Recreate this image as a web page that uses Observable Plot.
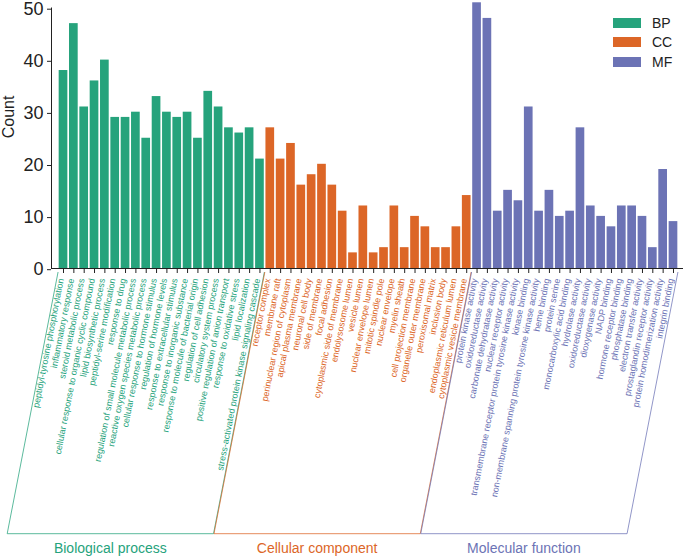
<!DOCTYPE html>
<html><head><meta charset="utf-8">
<script src="https://cdn.jsdelivr.net/npm/d3@7"></script>
<script src="https://cdn.jsdelivr.net/npm/@observablehq/plot@0.6"></script>
<style>
body{margin:0;background:#fff;font-family:"Liberation Sans",Arial,sans-serif;}
#wrap{position:relative;width:685px;height:557px;}
#legend{position:absolute;left:613px;top:13px;font-size:14px;color:#222;}
.row{display:flex;align-items:center;height:19.5px;}
.sw{width:28px;height:10px;margin-right:11px;}
</style></head><body><div id="wrap"><div id="legend"></div></div>
<script>
const groups = ["BP", "CC", "MF"];
const groupNames = ["Biological process", "Cellular component", "Molecular function"];
const groupColors = ["#26a37c", "#dc6627", "#6c73b5"];

const bpTerms = ["peptidyl-tyrosine phosphorylation", "inflammatory response", "steroid metabolic process",
  "cellular response to organic cyclic compound", "lipid biosynthetic process", "peptidyl-serine modification",
  "response to drug", "regulation of small molecule metabolic process", "reactive oxygen species metabolic process",
  "cellular response to hormone stimulus", "regulation of hormone levels", "response to extracellular stimulus",
  "response to inorganic substance", "response to molecule of bacterial origin", "regulation of cell adhesion",
  "circulatory system process", "positive regulation of anion transport", "response to oxidative stress",
  "lipid localization", "stress-activated protein kinase signaling cascade"];
const bpCounts = [38, 47, 31, 36, 40, 29, 29, 30, 25, 33, 30, 29, 30, 25, 34, 31, 27, 26, 27, 21];

const ccTerms = ["receptor complex", "membrane raft", "perinuclear region of cytoplasm", "apical plasma membrane",
  "neuronal cell body", "side of membrane", "focal adhesion", "cytoplasmic side of membrane", "endolysosome lumen",
  "vesicle lumen", "nuclear envelope lumen", "mitotic spindle pole", "nuclear envelope", "myelin sheath",
  "cell projection membrane", "organelle outer membrane", "peroxisomal matrix", "inclusion body",
  "endoplasmic reticulum lumen", "cytoplasmic vesicle membrane"];
const ccCounts = [27, 21, 24, 16, 18, 20, 16, 11, 3, 12, 3, 4, 12, 4, 10, 8, 4, 4, 8, 14];

const mfTerms = ["protein kinase activity", "oxidoreductase activity", "carbonate dehydratase activity",
  "nuclear receptor activity", "transmembrane receptor protein tyrosine kinase activity", "kinase binding",
  "non-membrane spanning protein tyrosine kinase activity", "heme binding", "protein serine",
  "monocarboxylic acid binding", "hydrolase activity", "oxidoreductase activity", "dioxygenase activity",
  "NADP binding", "hormone receptor binding", "phosphatase binding", "electron transfer activity",
  "prostaglandin receptor activity", "protein homodimerization activity", "integrin binding"];
const mfCounts = [51, 48, 11, 15, 13, 31, 11, 15, 10, 11, 27, 12, 10, 8, 12, 12, 10, 4, 19, 9];

const yTicks = [0, 10, 20, 30, 40, 50];

const data = [];
[[bpTerms, bpCounts], [ccTerms, ccCounts], [mfTerms, mfCounts]].forEach(([t, c], g) =>
  t.forEach((term, i) => data.push({idx: data.length, term, count: c[i], group: groups[g]})));
const idx = data.map(d => d.idx);
const labelOf = i => data[i].term;
const font = "'Liberation Sans', Arial, sans-serif";

const chart = Plot.plot({
  width: 685, height: 557,
  marginLeft: 51, marginRight: 2, marginTop: 7.5, marginBottom: 289,
  style: {fontFamily: font, background: "white", color: "#222", overflow: "visible"},
  x: {domain: idx, paddingInner: 0.16, paddingOuter: 0.645, align: 0.575, round: false, axis: null},
  y: {domain: [0, 50], axis: null},
  color: {domain: groups, range: groupColors},
  marks: [
    Plot.barY(data, {x: "idx", y: "count", fill: "group"}),
    Plot.frame({anchor: "left", stroke: "#222"}),
    Plot.ruleY([0], {stroke: "#222"}),
    Plot.axisY({ticks: yTicks, tickSize: 4, tickPadding: 4, fontSize: 18, dy: 1.2, label: null, stroke: "#222"}),
    Plot.text(["Count"], {frameAnchor: "left", rotate: -90, dx: -42.5, fontSize: 16, fill: "#222"}),
    Plot.axisX({tickSize: 5, tickFormat: () => "", label: null, stroke: "#222"}),
    ...groups.map((g, k) => Plot.axisX(data.filter(d => d.group === g).map(d => d.idx), {
      tickSize: 0, tickPadding: 10, tickRotate: -79, tickFormat: labelOf, dx: -2.5,
      fill: groupColors[k], fontSize: 9.0, label: null
    }))
  ]
});

const wrap = document.getElementById("wrap");
wrap.insertBefore(chart, wrap.firstChild);

// brackets and group names, positioned from the library's scales
const sx = chart.scale("x"), sy = chart.scale("y");
const y0 = sy.apply(0);
const topY = y0 + 4, botY = 533.7;
const slant = Math.tan(11 * Math.PI / 180);
const dx = (botY - topY) * slant;
const svg = d3.select(chart);
groups.forEach((g, k) => {
  const ids = data.filter(d => d.group === g).map(d => d.idx);
  const xl = sx.apply(ids[0]) - 0.6, xr = sx.apply(ids[ids.length - 1]) + sx.bandwidth + 0.6;
  svg.append("path")
    .attr("d", `M${xl},${topY}L${xl - dx},${botY}L${xr - dx},${botY}L${xr},${topY}`)
    .attr("fill", "none").attr("stroke", groupColors[k]).attr("stroke-opacity", 0.75).attr("stroke-width", 1);
  svg.append("text")
    .attr("x", (xl + xr) / 2 - dx).attr("y", 553)
    .attr("text-anchor", "middle").attr("fill", groupColors[k])
    .attr("font-size", 14).attr("font-family", font)
    .text(groupNames[k]);
});

// legend
const legend = document.getElementById("legend");
groups.forEach((g, k) => {
  const row = document.createElement("div");
  row.className = "row";
  row.innerHTML = `<div class="sw" style="background:${groupColors[k]}"></div><span>${g}</span>`;
  legend.appendChild(row);
});
</script></body></html>
